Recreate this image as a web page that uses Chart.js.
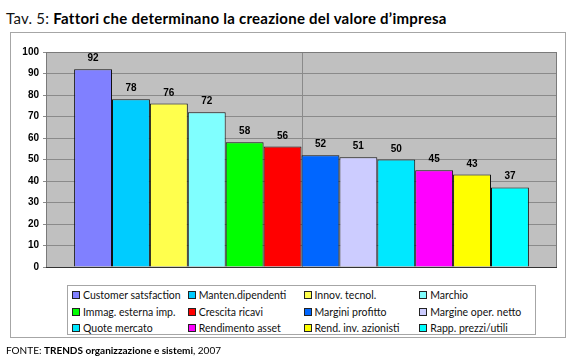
<!DOCTYPE html>
<html>
<head>
<meta charset="utf-8">
<script src="https://cdn.jsdelivr.net/npm/chart.js@4.4.0/dist/chart.umd.min.js"></script>
<style>
html,body{margin:0;padding:0;background:#fff;width:567px;height:360px;overflow:hidden;}
body{position:relative;font-family:"Lato","DejaVu Sans",sans-serif;color:#000;}
#title{position:absolute;left:6px;top:9px;font-size:15px;white-space:nowrap;line-height:18px;letter-spacing:0.25px;}
#title span{font-weight:400;color:#111;}
#title b{font-weight:700;}
#box{position:absolute;left:10px;top:32px;border:1px solid #a6a6a6;box-sizing:border-box;width:556px;height:306px;}
#cv{position:absolute;left:0;top:0;}
#legend{position:absolute;left:67px;top:285px;width:469px;height:50px;box-sizing:border-box;border:1px solid #a6a6a6;background:#fff;padding:1px 0 0 4px;}
.row{height:16.5px;display:flex;align-items:center;}
.item{width:117.5px;display:flex;align-items:center;font-size:10.5px;white-space:nowrap;color:#111;}
.mk{width:6px;height:6px;border:1px solid #222;margin-right:3px;flex:none;}
#footer{position:absolute;left:6px;top:343px;font-size:10px;white-space:nowrap;line-height:14px;}
#footer b{font-weight:700;}
</style>
</head>
<body>
<div id="title"><span>Tav. 5: </span><b>Fattori che determinano la creazione del valore d’impresa</b></div>
<div id="box"></div>
<canvas id="cv" width="567" height="360"></canvas>
<div id="legend"></div>
<div id="footer">FONTE: <b>TRENDS organizzazione e sistemi</b>, 2007</div>
<script>
const categories = [
  'Customer satsfaction', 'Manten.dipendenti', 'Innov. tecnol.', 'Marchio',
  'Immag. esterna imp.', 'Crescita ricavi', 'Margini profitto', 'Margine oper. netto',
  'Quote mercato', 'Rendimento asset', 'Rend. inv. azionisti', 'Rapp. prezzi/utili'
];
const values = [92, 78, 76, 72, 58, 56, 52, 51, 50, 45, 43, 37];
const colors = [
  '#8080FF', '#00CCFF', '#FFFF4D', '#80FFFF',
  '#00FF00', '#FF0000', '#0066FF', '#CCCCFF',
  '#00E8FF', '#FF00FF', '#FFFF00', '#00FFFF'
];
const yMin = 0, yMax = 100, yStep = 10;

// legend (4 columns, row-major)
const legend = document.getElementById('legend');
for (let r = 0; r < 3; r++) {
  const row = document.createElement('div'); row.className = 'row';
  for (let c = 0; c < 4; c++) {
    const i = r * 4 + c;
    const it = document.createElement('div'); it.className = 'item';
    const mk = document.createElement('span'); mk.className = 'mk'; mk.style.background = colors[i];
    const tx = document.createElement('span'); tx.textContent = categories[i];
    it.appendChild(mk); it.appendChild(tx); row.appendChild(it);
  }
  legend.appendChild(row);
}

const plotDeco = {
  id: 'plotDeco',
  beforeDraw(chart) {
    const {ctx, chartArea: a} = chart;
    ctx.save();
    ctx.fillStyle = '#C0C0C0';
    ctx.fillRect(a.left, a.top, a.right - a.left, a.bottom - a.top);
    ctx.restore();
  },
  beforeDatasetsDraw(chart) {
    const {ctx, chartArea: a} = chart;
    ctx.save();
    ctx.strokeStyle = '#8a8a8a';
    ctx.lineWidth = 1;
    const cx = Math.round((a.left + a.right) / 2) + 0.5;
    ctx.beginPath(); ctx.moveTo(cx, a.top); ctx.lineTo(cx, a.bottom); ctx.stroke();
    ctx.strokeStyle = '#7a7a7a';
    ctx.strokeRect(a.left + 0.5, a.top + 0.5, a.right - a.left - 1, a.bottom - a.top);
    ctx.strokeStyle = '#333';
    ctx.beginPath(); ctx.moveTo(a.left, a.bottom + 0.5); ctx.lineTo(a.right, a.bottom + 0.5); ctx.stroke();
    ctx.restore();
  },
  afterDatasetsDraw(chart) {
    const {ctx} = chart;
    ctx.save();
    ctx.font = 'bold 10px "Liberation Sans", Arial, sans-serif';
    ctx.fillStyle = '#000';
    ctx.textAlign = 'center';
    ctx.textBaseline = 'alphabetic';
    chart.data.datasets.forEach((ds, i) => {
      const bar = chart.getDatasetMeta(i).data[0];
      ctx.fillText(String(ds.data[0]), bar.x, bar.y - 8);
    });
    ctx.restore();
  }
};

new Chart(document.getElementById('cv'), {
  type: 'bar',
  data: {
    labels: [''],
    datasets: categories.map((c, i) => ({
      label: c,
      data: [values[i]],
      backgroundColor: colors[i],
      borderColor: '#111',
      borderWidth: 1,
      categoryPercentage: 0.89,
      barPercentage: 1
    }))
  },
  options: {
    responsive: false,
    animation: false,
    layout: {padding: {left: 0, right: 10, top: 52, bottom: 93}},
    plugins: {legend: {display: false}, tooltip: {enabled: false}},
    scales: {
      x: {display: false},
      y: {
        min: yMin, max: yMax,
        ticks: {stepSize: yStep, color: '#000', padding: 4,
          font: {family: '"Liberation Sans", Arial, sans-serif', size: 10, weight: 'bold'}},
        grid: {color: '#8a8a8a', tickLength: 3, drawTicks: true},
        border: {display: true, color: '#7a7a7a'},
        afterFit(s) { s.width = 46; }
      }
    }
  },
  plugins: [plotDeco]
});
</script>
</body>
</html>
